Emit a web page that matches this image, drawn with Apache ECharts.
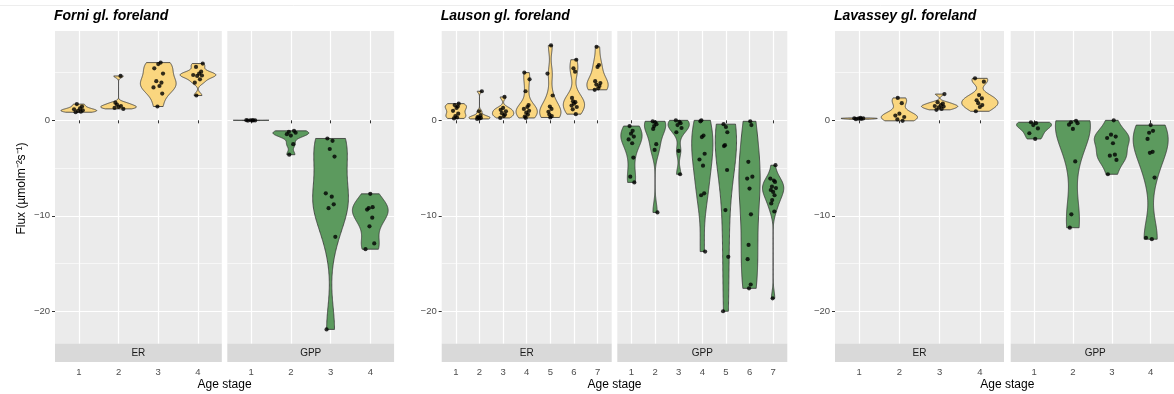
<!DOCTYPE html>
<html>
<head>
<meta charset="utf-8">
<script src="https://cdn.jsdelivr.net/npm/echarts@6/dist/echarts.min.js"></script>
<style>
  html, body { margin: 0; padding: 0; background: #ffffff; }
  #chart { width: 1174px; height: 394px; }
</style>
</head>
<body>
<div id="chart"></div>
<script>
const TITLES = ['Forni gl. foreland', 'Lauson gl. foreland', 'Lavassey gl. foreland'];
const FACETS = ['ER', 'GPP'];
const STAGES_4 = [1, 2, 3, 4];
const STAGES_7 = [1, 2, 3, 4, 5, 6, 7];
const Y_TICKS = [-20, -10, 0];
const Y_MINOR = [-15, -5, 5];

// flux values per age stage (one array per violin)
const FORNI_ER = [
  [0.85, 0.9, 1.0, 1.05, 1.15, 1.25, 1.45, 1.7],
  [1.2, 1.3, 1.4, 1.5, 1.65, 1.85, 4.65],
  [1.45, 2.8, 3.45, 3.6, 3.95, 4.1, 4.9, 5.45, 5.9, 6.05],
  [2.6, 3.95, 4.3, 4.65, 4.7, 4.75, 4.9, 5.1, 5.6, 5.95],
];
const FORNI_GPP = [
  [-0.02, 0.0, 0.01, -0.01, 0.02, 0.0],
  [-1.1, -1.2, -1.3, -1.45, -1.6, -2.5, -3.6],
  [-1.9, -2.15, -3.0, -3.8, -7.65, -8.0, -8.8, -9.2, -12.2, -21.9],
  [-7.7, -9.1, -9.2, -9.35, -10.2, -11.1, -12.9, -13.5],
];
const LAUSON_ER = [
  [0.2, 0.3, 0.45, 0.7, 1.0, 1.3, 1.45, 1.6, 1.75],
  [0.15, 0.2, 0.25, 0.3, 0.35, 0.55, 0.95, 3.05],
  [0.25, 0.45, 0.6, 0.75, 0.95, 1.1, 1.3, 2.45],
  [0.25, 0.4, 0.6, 0.8, 1.0, 1.2, 1.4, 1.6, 3.05, 4.3, 5.0],
  [0.3, 0.45, 0.6, 0.9, 1.2, 1.45, 2.6, 4.9, 7.85],
  [0.65, 1.15, 1.4, 1.55, 1.75, 1.9, 2.0, 2.35, 5.1, 5.45, 6.35],
  [3.2, 3.35, 3.6, 3.75, 3.9, 4.1, 5.6, 5.8, 7.7],
];
const LAUSON_GPP = [
  [-0.6, -1.1, -1.4, -1.7, -2.0, -2.4, -3.9, -5.9, -6.5],
  [-0.1, -0.2, -0.4, -0.6, -0.9, -2.5, -3.1, -9.65],
  [0.0, -0.15, -0.3, -0.5, -0.8, -1.25, -3.2, -5.65],
  [0.0, -0.1, -1.6, -1.75, -3.5, -4.1, -4.75, -7.65, -7.85, -13.75],
  [-0.4, -0.7, -1.25, -2.6, -2.7, -5.2, -9.4, -14.3, -20.0],
  [-0.1, -0.5, -4.35, -5.9, -6.1, -7.15, -9.85, -13.05, -14.55, -17.2, -17.6],
  [-4.7, -6.1, -6.3, -6.45, -6.95, -7.1, -7.3, -7.5, -7.85, -8.35, -8.7, -9.55, -18.65],
];
const LAVASSEY_ER = [
  [0.12, 0.15, 0.18, 0.2, 0.22, 0.25],
  [-0.05, 0.1, 0.35, 0.5, 0.7, 1.8, 2.35],
  [1.1, 1.2, 1.35, 1.45, 1.5, 1.6, 1.75, 1.9, 2.75],
  [0.95, 1.4, 1.6, 1.8, 2.1, 2.3, 2.65, 4.05, 4.4],
];
const LAVASSEY_GPP = [
  [-0.2, -0.3, -0.5, -0.85, -1.35, -1.95],
  [-0.05, -0.2, -0.3, -0.45, -0.9, -4.3, -9.85, -11.25],
  [0.0, -1.5, -1.7, -1.85, -2.4, -3.6, -3.7, -4.15, -5.65],
  [-0.5, -1.1, -1.3, -1.95, -3.3, -3.4, -6.0, -12.3, -12.45],
];

// horizontal jitter of the dots (category units)
const JITTER = [-0.08, 0.05, -0.02, 0.1, -0.12, 0.03, 0.08, -0.05, 0.12, -0.1, 0.0, 0.06, -0.04];

const Y_MIN = -23.39;
const Y_MAX = 9.36;
const FILL = { ER: '#FAD67F', GPP: '#5C9A5E' };
const FONT = 'Liberation Sans, Arial, sans-serif';

const panels = [
  { title: TITLES[0], stages: STAGES_4, data: [FORNI_ER, FORNI_GPP], lefts: [55, 227.3], width: 166.8, yName: true },
  { title: TITLES[1], stages: STAGES_7, data: [LAUSON_ER, LAUSON_GPP], lefts: [441.7, 617.3], width: 170 },
  { title: TITLES[2], stages: STAGES_4, data: [LAVASSEY_ER, LAVASSEY_GPP], lefts: [835, 1010.7], width: 169 },
];
const TOP = 31;
const HEIGHT = 312.6;
const STRIP_H = 18.4;

// ggplot-like violin: gaussian kde with bw.nrd0, trimmed to data range, scaled to width
function quantile(sorted, p) {
  const h = (sorted.length - 1) * p;
  const lo = Math.floor(h);
  const hi = Math.min(lo + 1, sorted.length - 1);
  return sorted[lo] + (h - lo) * (sorted[hi] - sorted[lo]);
}
function bwNrd0(x) {
  const n = x.length;
  const mean = x.reduce((a, b) => a + b, 0) / n;
  const sd = Math.sqrt(x.reduce((a, b) => a + (b - mean) ** 2, 0) / (n - 1));
  const s = x.slice().sort((a, b) => a - b);
  const iqr = quantile(s, 0.75) - quantile(s, 0.25);
  let lo = Math.min(sd, iqr / 1.34);
  if (!lo) lo = sd || Math.abs(x[0]) || 1;
  return 0.9 * lo * Math.pow(n, -0.2);
}
function violinProfile(values) {
  const bw = bwNrd0(values);
  const lo = Math.min(...values);
  const hi = Math.max(...values);
  const N = 160;
  const prof = [];
  for (let i = 0; i < N; i++) {
    const y = lo + (hi - lo) * i / (N - 1);
    let d = 0;
    values.forEach((v) => { d += Math.exp(-0.5 * ((y - v) / bw) ** 2); });
    prof.push([y, d]);
  }
  const mx = Math.max(...prof.map((p) => p[1]));
  return prof.map((p) => [p[0], p[1] / mx]);
}

const grids = [];
const xAxes = [];
const yAxes = [];
const series = [];
const graphics = [];
const titles = [];

panels.forEach((panel, pi) => {
  titles.push({
    text: panel.title,
    left: panel.lefts[0] - 1,
    top: 9,
    padding: 0,
    textStyle: { fontFamily: FONT, fontSize: 14, fontWeight: 'bold', fontStyle: 'italic', color: '#000' },
  });
  panel.data.forEach((groups, fi) => {
    const facet = FACETS[fi];
    const gi = grids.length;
    const isER = fi === 0;
    grids.push({
      left: panel.lefts[fi], top: TOP, width: panel.width, height: HEIGHT,
      show: true, backgroundColor: '#EBEBEB', borderWidth: 0,
    });
    xAxes.push({
      gridIndex: gi, type: 'value', min: 0.4, max: panel.stages.length + 0.6,
      offset: STRIP_H,
      axisLine: { show: false },
      axisTick: { show: true, length: 3, customValues: panel.stages, lineStyle: { color: '#333', width: 1 } },
      axisLabel: { customValues: panel.stages, color: '#4D4D4D', fontSize: 9.5, fontFamily: FONT, margin: 5 },
      splitLine: { show: true, lineStyle: { color: '#FFFFFF', width: 1.2 } },
    });
    yAxes.push({
      gridIndex: gi, type: 'value', min: Y_MIN, max: Y_MAX,
      axisLine: { show: false },
      axisTick: { show: isER, length: 3, customValues: Y_TICKS, lineStyle: { color: '#333', width: 1 } },
      axisLabel: {
        show: isER, customValues: Y_TICKS, color: '#4D4D4D', fontSize: 9.5, fontFamily: FONT, margin: 5,
        formatter: (v) => String(v).replace('-', '\u2212'),
      },
      splitLine: { show: true, lineStyle: { color: '#FFFFFF', width: 1.2 } },
    });
    const yMajor = yAxes.length - 1;
    yAxes.push({
      gridIndex: gi, type: 'value', min: Y_MIN, max: Y_MAX,
      axisLine: { show: false },
      axisTick: { show: false, customValues: Y_MINOR },
      axisLabel: { show: false, customValues: Y_MINOR },
      splitLine: { show: true, lineStyle: { color: '#FFFFFF', width: 0.6 } },
    });
    const xi = xAxes.length - 1;

    const profiles = groups.map(violinProfile);
    series.push({
      type: 'custom',
      xAxisIndex: xi,
      yAxisIndex: yMajor,
      silent: true,
      z: 2,
      data: groups.map((g, i) => [panel.stages[i], i]),
      encode: { x: 0, y: -1 },
      renderItem: (params, api) => {
        const cx = api.value(0);
        const prof = profiles[api.value(1)];
        const half = api.size([0.45, 0])[0];
        const c = api.coord([cx, 0])[0];
        const left = [];
        const right = [];
        prof.forEach(([y, w]) => {
          const py = api.coord([cx, y])[1];
          left.push([c - w * half, py]);
          right.push([c + w * half, py]);
        });
        return {
          type: 'polygon',
          shape: { points: left.concat(right.reverse()) },
          style: { fill: FILL[facet], stroke: '#333333', lineWidth: 0.8 },
        };
      },
    });
    const pts = [];
    let k = 0;
    groups.forEach((g, i) => {
      g.forEach((v) => {
        pts.push([panel.stages[i] + JITTER[k % JITTER.length], v]);
        k++;
      });
    });
    series.push({
      type: 'scatter',
      xAxisIndex: xi,
      yAxisIndex: yMajor,
      silent: true,
      z: 3,
      symbol: 'circle',
      symbolSize: 4.2,
      itemStyle: { color: '#000000' },
      data: pts,
    });

    // facet strip under the panel
    graphics.push({
      type: 'rect', silent: true,
      shape: { x: panel.lefts[fi], y: TOP + HEIGHT, width: panel.width, height: STRIP_H },
      style: { fill: '#D9D9D9' },
    });
    graphics.push({
      type: 'text', silent: true,
      style: {
        text: facet, x: panel.lefts[fi] + panel.width / 2, y: TOP + HEIGHT + STRIP_H / 2,
        align: 'center', verticalAlign: 'middle', fill: '#1A1A1A', font: '10px ' + FONT,
      },
    });
  });

  const mid = (panel.lefts[0] + panel.lefts[1] + panel.width) / 2;
  graphics.push({
    type: 'text', silent: true,
    style: { text: 'Age stage', x: mid, y: 384.5, align: 'center', verticalAlign: 'middle', fill: '#000', font: '12px ' + FONT },
  });
  if (panel.yName) {
    graphics.push({
      type: 'text', silent: true, x: 22, y: TOP + (HEIGHT + STRIP_H) / 2 - 8, rotation: Math.PI / 2,
      style: { text: 'Flux (\u00b5molm\u207b\u00b2s\u207b\u00b9)', x: 0, y: 0, align: 'center', verticalAlign: 'middle', fill: '#000', font: '12px ' + FONT },
    });
  }
});

graphics.push({
  type: 'line', silent: true, z: -1,
  shape: { x1: 0, y1: 5.5, x2: 1174, y2: 5.5 },
  style: { stroke: '#EDEDED', lineWidth: 1 },
});

const chart = echarts.init(document.getElementById('chart'), null, { renderer: 'canvas' });
chart.setOption({
  animation: false,
  backgroundColor: '#FFFFFF',
  title: titles,
  grid: grids,
  xAxis: xAxes,
  yAxis: yAxes,
  series: series,
  graphic: graphics,
});
</script>
</body>
</html>
